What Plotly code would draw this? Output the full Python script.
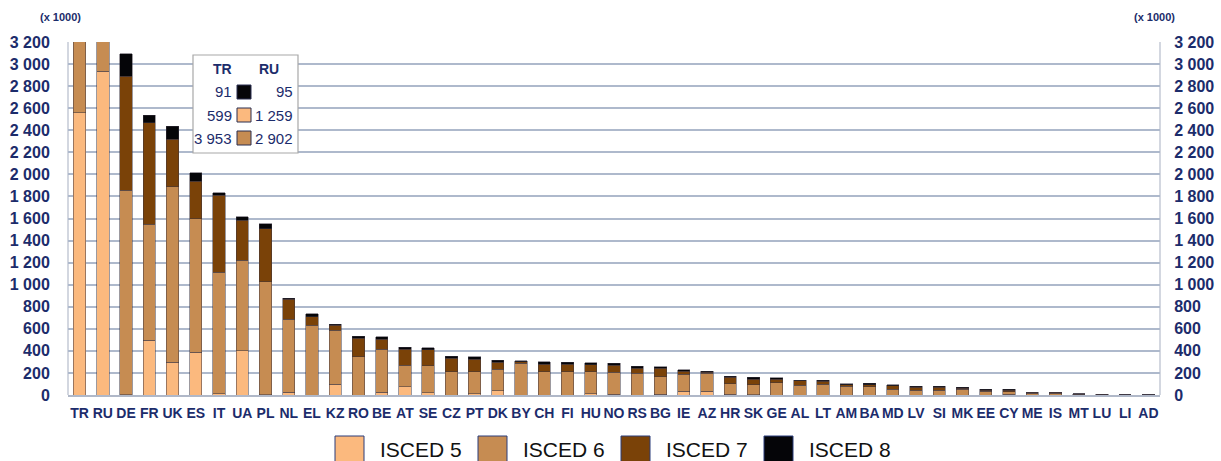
import plotly.graph_objects as go

# ---------------- data ----------------
countries = ["TR", "RU", "DE", "FR", "UK", "ES", "IT", "UA", "PL", "NL", "EL", "KZ",
             "RO", "BE", "AT", "SE", "CZ", "PT", "DK", "BY", "CH", "FI", "HU", "NO",
             "RS", "BG", "IE", "AZ", "HR", "SK", "GE", "AL", "LT", "AM", "BA", "MD",
             "LV", "SI", "MK", "EE", "CY", "ME", "IS", "MT", "LU", "LI", "AD"]

isced5 = [2557, 2937, 1, 498, 296, 386, 10, 402, 2, 25, 0, 97,
          0, 25, 75, 21, 0, 10, 39, 0, 0, 0, 12, 5,
          0, 5, 36, 36, 9, 3, 0, 0, 0, 0, 0, 0,
          0, 0, 0, 0, 5, 0, 0, 1, 0, 0, 0]
isced6 = [3953, 2902, 1856, 1048, 1591, 1214, 1101, 821, 1024, 660, 634, 492,
          347, 389, 197, 245, 211, 201, 193, 287, 211, 211, 199, 200,
          196, 161, 154, 160, 94, 91, 112, 88, 97, 80, 75, 54,
          45, 45, 51, 36, 25, 18, 17, 8, 4, 1, 1]
isced7 = [599, 1259, 1032, 920, 431, 338, 700, 362, 480, 181, 75, 45,
          166, 93, 142, 142, 121, 115, 64, 15, 70, 67, 64, 67,
          46, 76, 27, 9, 57, 51, 33, 39, 27, 15, 19, 28,
          24, 24, 12, 9, 15, 6, 6, 3, 2, 0, 0]
isced8 = [91, 95, 205, 70, 118, 76, 24, 30, 46, 12, 28, 6,
          21, 21, 21, 21, 21, 21, 18, 9, 21, 18, 18, 15,
          18, 12, 12, 9, 12, 15, 12, 9, 9, 9, 12, 9,
          12, 12, 9, 9, 6, 2, 2, 1, 1, 0, 0]

series_names = ["ISCED 5", "ISCED 6", "ISCED 7", "ISCED 8"]
series_values = [isced5, isced6, isced7, isced8]
series_colors = ["#FBB97E", "#C68C52", "#7A4208", "#050508"]

y_tickvals = list(range(0, 3201, 200))
y_ticktext = ["0", "200", "400", "600", "800", "1 000", "1 200", "1 400", "1 600",
              "1 800", "2 000", "2 200", "2 400", "2 600", "2 800", "3 000", "3 200"]

inset_heads = ["TR", "RU"]
inset_tr = ["91", "599", "3 953"]
inset_ru = ["95", "1 259", "2 902"]
inset_swatch_colors = ["#050508", "#FBB97E", "#C68C52"]

unit_label = "(x 1000)"

# ---------------- layout helpers ----------------
W, H = 1221, 461
L, R, T, B = 68, 1160, 42, 395
NAVY = "#1C2C6B"
FONT = "Liberation Sans, Arial"


def px(x):
    return (x - L) / (R - L)


def py(y):
    return (B - y) / (B - T)


fig = go.Figure()
for name, vals, col in zip(series_names, series_values, series_colors):
    fig.add_trace(go.Bar(
        x=countries, y=vals, name=name,
        marker=dict(color=col, line=dict(color="#3A3340", width=0.5)),
        showlegend=False,
    ))

# invisible trace to activate the right axis
fig.add_trace(go.Scatter(x=[countries[0]], y=[0], yaxis="y2", mode="markers",
                         marker=dict(opacity=0), showlegend=False, hoverinfo="skip"))

shapes = []
annotations = []

# frame lines (left / right)
for xx in (0, 1):
    shapes.append(dict(type="line", xref="paper", yref="paper", x0=xx, x1=xx, y0=0, y1=1,
                       line=dict(color="#C4CAD6", width=1.5), layer="below"))

# inset table
shapes.append(dict(type="rect", xref="paper", yref="paper",
                   x0=px(193), x1=px(298), y0=py(153), y1=py(55),
                   fillcolor="white", line=dict(color="#A8A8A8", width=1.2), layer="above"))
for hx, ht in zip([222, 269], inset_heads):
    annotations.append(dict(xref="paper", yref="paper", x=px(hx), y=py(69), text=ht,
                            showarrow=False, xanchor="center", yanchor="middle",
                            font=dict(family=FONT, size=14, color=NAVY, weight="bold")))
row_y = [92, 115, 138]
for ry, tv, rv, sc in zip(row_y, inset_tr, inset_ru, inset_swatch_colors):
    shapes.append(dict(type="rect", xref="paper", yref="paper",
                       x0=px(237), x1=px(251), y0=py(ry + 7), y1=py(ry - 7),
                       fillcolor=sc, line=dict(color="#2A2F50", width=1), layer="above"))
    annotations.append(dict(xref="paper", yref="paper", x=px(234), y=py(ry), text=tv,
                            showarrow=False, xanchor="right", yanchor="middle",
                            font=dict(family=FONT, size=15, color=NAVY)))
    annotations.append(dict(xref="paper", yref="paper", x=px(295), y=py(ry), text=rv,
                            showarrow=False, xanchor="right", yanchor="middle",
                            font=dict(family=FONT, size=15, color=NAVY)))

# unit labels
for ux in (60, 1154):
    annotations.append(dict(xref="paper", yref="paper", x=px(ux), y=py(17), text=unit_label,
                            showarrow=False, xanchor="center", yanchor="middle",
                            font=dict(family=FONT, size=11, color=NAVY, weight="bold")))

# custom legend
leg_x = [335, 478, 621, 764]
for lx, name, col in zip(leg_x, series_names, series_colors):
    shapes.append(dict(type="rect", xref="paper", yref="paper",
                       x0=px(lx), x1=px(lx + 29), y0=py(462), y1=py(436),
                       fillcolor=col, line=dict(color="#2A3C7A", width=1)))
    annotations.append(dict(xref="paper", yref="paper", x=px(lx + 43), y=py(449), text=name,
                            showarrow=False, xanchor="left", yanchor="middle",
                            font=dict(family=FONT, size=21, color="#111111")))

tick_common = dict(range=[0, 3200], tickvals=y_tickvals, ticktext=y_ticktext,
                   zeroline=False, showline=False, ticks="outside",
                   tickcolor="rgba(0,0,0,0)", automargin=False, fixedrange=True,
                   tickfont=dict(family=FONT, size=16, color=NAVY, weight="bold"))

fig.update_layout(
    width=W, height=H,
    margin=dict(l=L, r=W - R, t=T, b=H - B, pad=0),
    paper_bgcolor="white", plot_bgcolor="white",
    barmode="stack", bargap=0.47,
    shapes=shapes, annotations=annotations,
    xaxis=dict(range=[-0.5, len(countries) - 0.5], showgrid=False, showline=True,
               linecolor="#B0B8C8", linewidth=1.5, ticks="outside", ticklen=4,
               tickcolor="rgba(0,0,0,0)", tickangle=0, automargin=False, fixedrange=True,
               tickfont=dict(family=FONT, size=14, color=NAVY, weight="bold")),
    yaxis=dict(showgrid=True, gridcolor="#AEB9CC", gridwidth=1.5, ticklen=14, **tick_common),
    yaxis2=dict(overlaying="y", side="right", showgrid=False, ticklen=10, **tick_common),
)

fig.write_html("out.html", config={"displayModeBar": False},
               post_script="document.body.style.margin='0';document.body.style.overflow='hidden';")
